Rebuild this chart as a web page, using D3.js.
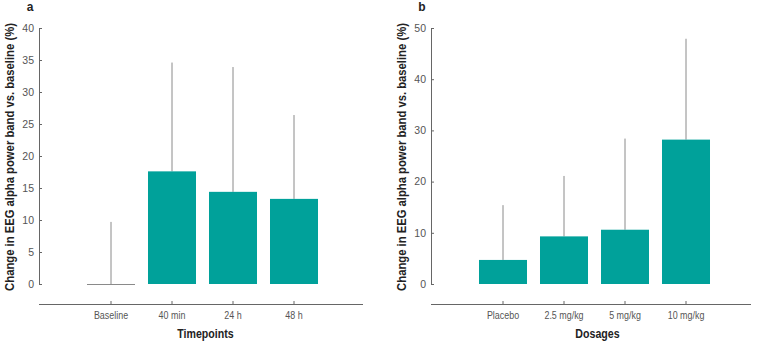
<!DOCTYPE html>
<html>
<head>
<meta charset="utf-8">
<script src="https://cdn.jsdelivr.net/npm/d3@7"></script>
<style>
  body { margin: 0; background: #fff; }
  svg { display: block; font-family: "Liberation Sans", Arial, sans-serif; }
</style>
</head>
<body>
<div id="chart"></div>
<script>
// Panel a: timepoints
const timepoints = ["Baseline", "40 min", "24 h", "48 h"];
const timeMeans = [0, 17.6, 14.4, 13.3];
const timeUpper = [9.7, 34.6, 33.9, 26.4];
const timeTicks = [0, 5, 10, 15, 20, 25, 30, 35, 40];

// Panel b: dosages
const dosages = ["Placebo", "2.5 mg/kg", "5 mg/kg", "10 mg/kg"];
const doseMeans = [4.7, 9.3, 10.6, 28.2];
const doseUpper = [15.4, 21.1, 28.4, 47.9];
const doseTicks = [0, 10, 20, 30, 40, 50];

const W = 758, H = 345;
const svg = d3.select("#chart").append("svg")
  .attr("width", W)
  .attr("height", H);

function drawPanel(opts) {
  const { left, right, bandStart, bandEnd, letter, letterX, yMax, ticks, cats, means, upper, xTitle } = opts;
  const top = 28, bottom = 284, axisY = 304;
  const g = svg.append("g");

  const y = d3.scaleLinear().domain([0, yMax]).range([bottom, top]);
  const x = d3.scaleBand().domain(cats).range([bandStart, bandEnd])
    .paddingInner(0.213).paddingOuter(0.1065);

  // Y-axis (ticks pointing inward)
  const yAxis = g.append("g")
    .attr("transform", `translate(${left},0)`)
    .call(d3.axisLeft(y).tickValues(ticks).tickSize(-3).tickPadding(5));
  yAxis.select(".domain").attr("stroke", "#666").attr("d", `M0.5,${top}V${bottom}`);
  yAxis.selectAll(".tick line").attr("stroke", "#666");
  yAxis.selectAll("text")
    .attr("fill", "#555")
    .style("font-size", "10.5px");

  // X-axis line spans the whole panel, ticks point up
  const xAxis = g.append("g")
    .attr("transform", `translate(0,${axisY})`)
    .call(d3.axisBottom(x).tickSize(-3).tickPadding(8).tickSizeOuter(0));
  xAxis.select(".domain").attr("stroke", "#666").attr("d", `M${left},0.5H${right}`);
  xAxis.selectAll(".tick line").attr("stroke", "#666");
  xAxis.selectAll("text")
    .attr("fill", "#555")
    .attr("transform", "scale(0.85,1)")
    .style("font-size", "10.5px");

  // Error lines (upper only)
  g.selectAll(".err")
    .data(cats)
    .enter().append("line")
    .attr("class", "err")
    .attr("x1", d => x(d) + x.bandwidth() / 2)
    .attr("x2", d => x(d) + x.bandwidth() / 2)
    .attr("y1", (d, i) => y(means[i]))
    .attr("y2", (d, i) => y(upper[i]))
    .attr("stroke", "#8a8a8a")
    .attr("stroke-width", 1);

  // Bars
  g.selectAll(".bar")
    .data(cats)
    .enter().append("rect")
    .attr("class", "bar")
    .attr("x", d => x(d))
    .attr("width", x.bandwidth())
    .attr("y", (d, i) => y(means[i]))
    .attr("height", (d, i) => y(0) - y(means[i]))
    .attr("fill", "#00a19a");

  // Zero-height bars drawn as a flat gray line
  g.selectAll(".zero")
    .data(cats.filter((d, i) => means[i] === 0))
    .enter().append("line")
    .attr("x1", d => x(d))
    .attr("x2", d => x(d) + x.bandwidth())
    .attr("y1", y(0) + 0.5)
    .attr("y2", y(0) + 0.5)
    .attr("stroke", "#8a8a8a");

  // Panel letter
  g.append("text")
    .attr("x", letterX)
    .attr("y", 10.5)
    .attr("text-anchor", "middle")
    .style("font-size", "12px")
    .style("font-weight", "bold")
    .attr("fill", "#222")
    .text(letter);

  // X title
  g.append("text")
    .attr("transform", `translate(${(bandStart + bandEnd) / 2 + 3},338) scale(0.85,1)`)
    .attr("text-anchor", "middle")
    .style("font-size", "12.5px")
    .style("font-weight", "bold")
    .attr("fill", "#222")
    .text(xTitle);

  // Y title, squeezed horizontally to fit the axis height like a condensed face
  const yTitle = g.append("text")
    .attr("text-anchor", "middle")
    .style("font-size", "12.5px")
    .style("font-weight", "bold")
    .attr("fill", "#222")
    .text("Change in EEG alpha power band vs. baseline (%)");
  const sx = Math.min(1, 268 / yTitle.node().getComputedTextLength());
  yTitle.attr("transform", `translate(${left - 25},${(top + bottom) / 2 + 1}) rotate(-90) scale(${sx},1)`);
}

drawPanel({
  left: 39, right: 363, bandStart: 80.5, bandEnd: 324.5,
  letter: "a", letterX: 30, yMax: 40, ticks: timeTicks,
  cats: timepoints, means: timeMeans, upper: timeUpper, xTitle: "Timepoints"
});

drawPanel({
  left: 431, right: 751, bandStart: 472.5, bandEnd: 716.5,
  letter: "b", letterX: 422, yMax: 50, ticks: doseTicks,
  cats: dosages, means: doseMeans, upper: doseUpper, xTitle: "Dosages"
});
</script>
</body>
</html>
